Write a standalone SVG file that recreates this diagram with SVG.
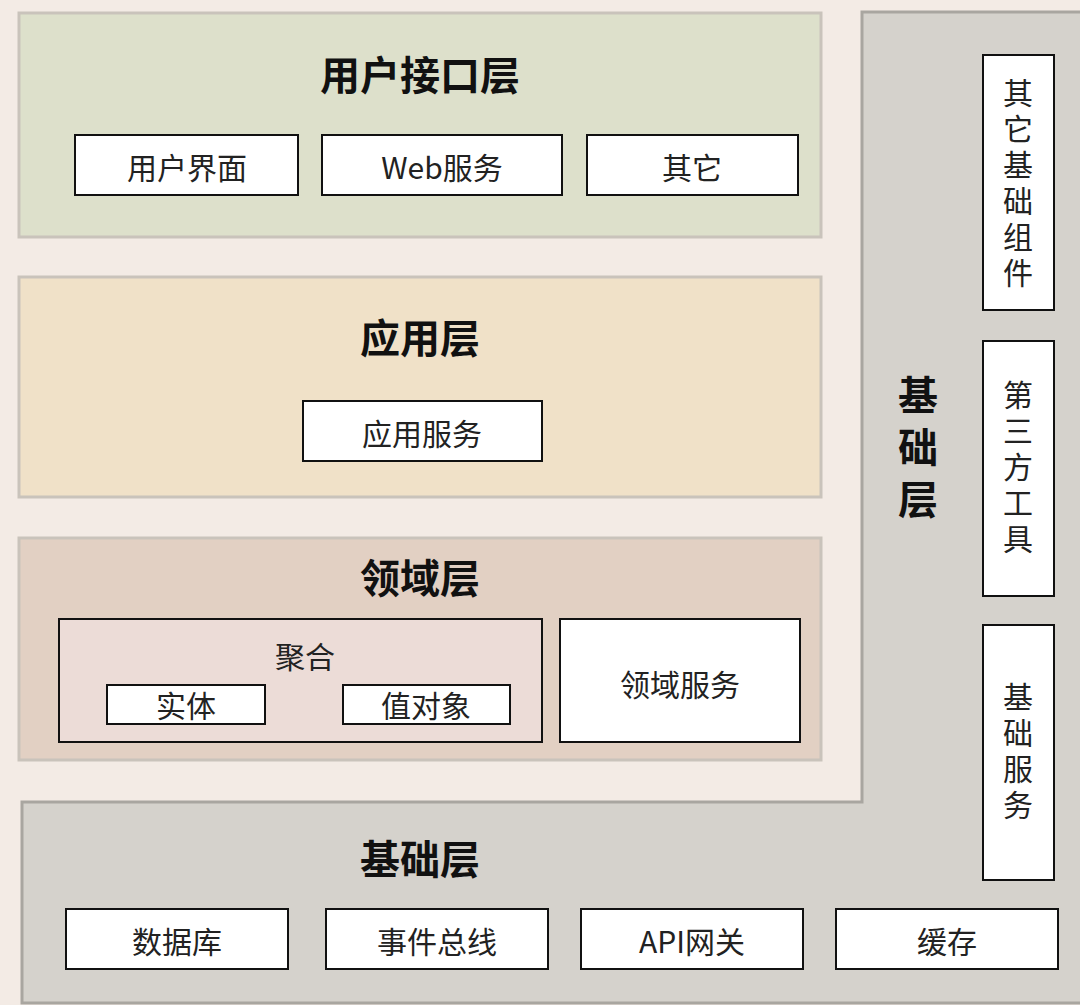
<svg xmlns="http://www.w3.org/2000/svg" width="1080" height="1005" viewBox="0 0 1080 1005">
<style>
.layer{stroke:#c9c3bb;stroke-width:3}
.box{fill:#fff;stroke:#111;stroke-width:2}
.t{font-family:"Noto Sans CJK SC","Liberation Sans",sans-serif;font-size:30px;fill:#222;text-anchor:middle;dominant-baseline:central}
.h{font-family:"Noto Sans CJK SC","Liberation Sans",sans-serif;font-size:40px;font-weight:bold;fill:#111;text-anchor:middle;dominant-baseline:central}
.v{writing-mode:vertical-rl;text-anchor:start;letter-spacing:6px}
.vh{writing-mode:vertical-rl;text-anchor:start;letter-spacing:12px}
</style>
<rect width="1080" height="1005" fill="#f3ebe5"/>
<g id="infra">
<path d="M862,12 H1082 V1003 H22 V802 H862 Z" fill="#d5d2cc" stroke="#a9a6a0" stroke-width="3"/>
<text class="h" x="420" y="857">基础层</text>
<text class="h vh" x="918" y="375">基础层</text>
</g>
<g id="ui">
<rect class="layer" x="19" y="13" width="802" height="224" fill="#dde0cb"/>
<text class="h" x="420" y="73">用户接口层</text>
<rect class="box" x="75" y="135" width="223" height="60"/><text class="t" x="187" y="166">用户界面</text>
<rect class="box" x="322" y="135" width="240" height="60"/><text class="t" x="442" y="166">Web服务</text>
<rect class="box" x="587" y="135" width="211" height="60"/><text class="t" x="692" y="166">其它</text>
</g>
<g id="app">
<rect class="layer" x="19" y="277" width="802" height="220" fill="#f0e1c8"/>
<text class="h" x="420" y="336">应用层</text>
<rect class="box" x="303" y="401" width="239" height="60"/><text class="t" x="422" y="432">应用服务</text>
</g>
<g id="domain">
<rect class="layer" x="19" y="538" width="802" height="222" fill="#e2d0c3"/>
<text class="h" x="420" y="576">领域层</text>
<rect x="59" y="619" width="483" height="123" fill="#ecdcd7" stroke="#111" stroke-width="2"/>
<text class="t" x="305" y="655">聚合</text>
<rect class="box" x="107" y="685" width="158" height="39"/><text class="t" x="186" y="704">实体</text>
<rect class="box" x="343" y="685" width="167" height="39"/><text class="t" x="426" y="704">值对象</text>
<rect class="box" x="560" y="619" width="240" height="123"/><text class="t" x="680" y="683">领域服务</text>
</g>
<g id="infra-items">
<rect class="box" x="66" y="909" width="222" height="60"/><text class="t" x="177" y="940">数据库</text>
<rect class="box" x="326" y="909" width="222" height="60"/><text class="t" x="437" y="940">事件总线</text>
<rect class="box" x="581" y="909" width="222" height="60"/><text class="t" x="692" y="940">API网关</text>
<rect class="box" x="836" y="909" width="222" height="60"/><text class="t" x="947" y="940">缓存</text>
<rect class="box" x="983" y="55" width="71" height="255"/>
<text class="t v" x="1018" y="78">其它基础组件</text>
<rect class="box" x="983" y="341" width="71" height="255"/>
<text class="t v" x="1018" y="380">第三方工具</text>
<rect class="box" x="983" y="625" width="71" height="255"/>
<text class="t v" x="1018" y="682">基础服务</text>
</g>
<g id="connectors"/>
</svg>
